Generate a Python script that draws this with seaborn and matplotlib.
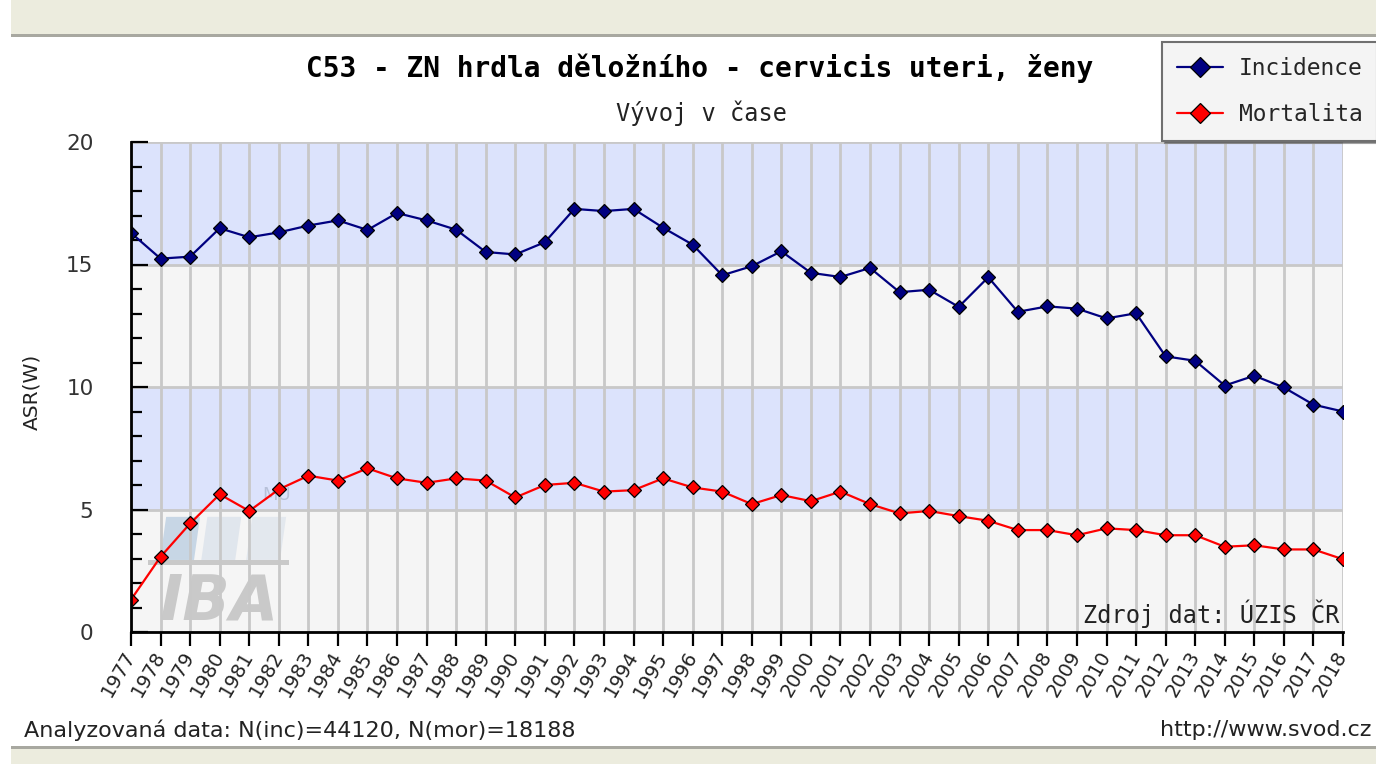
import matplotlib
matplotlib.use("Agg")
import matplotlib.pyplot as plt
from matplotlib.lines import Line2D
from matplotlib.patches import Rectangle, Polygon
import seaborn as sns
import pandas as pd

years = list(range(1977, 2019))
incidence = [16.29, 15.24, 15.32, 16.48, 16.11, 16.31, 16.59, 16.80, 16.41, 17.10,
             16.80, 16.42, 15.51, 15.41, 15.91, 17.27, 17.18, 17.27, 16.50, 15.81,
             14.56, 14.93, 15.54, 14.66, 14.49, 14.86, 13.87, 13.97, 13.27, 14.48,
             13.07, 13.29, 13.20, 12.80, 13.01, 11.25, 11.07, 10.06, 10.46, 9.98,
             9.28, 9.00]
mortality = [1.32, 3.07, 4.43, 5.62, 4.94, 5.82, 6.38, 6.18, 6.68, 6.27,
             6.09, 6.27, 6.18, 5.49, 6.00, 6.09, 5.73, 5.79, 6.27, 5.90,
             5.73, 5.22, 5.59, 5.34, 5.73, 5.22, 4.84, 4.94, 4.73, 4.54,
             4.16, 4.16, 3.95, 4.23, 4.16, 3.95, 3.95, 3.48, 3.54, 3.37,
             3.37, 2.97]
series_names = ["Incidence", "Mortalita"]
series_colors = {"Incidence": "#000080", "Mortalita": "#FF0000"}
y_bands = [0, 5, 10, 15, 20]

title = "C53 - ZN hrdla děložního - cervicis uteri, ženy"
subtitle = "Vývoj v čase"
ylabel = "ASR(W)"
source = "Zdroj dat: ÚZIS ČR"
footer_left = "Analyzovaná data: N(inc)=44120, N(mor)=18188"
footer_right = "http://www.svod.cz"

df = pd.DataFrame({
    "year": years * 2,
    "value": incidence + mortality,
    "series": [series_names[0]] * len(years) + [series_names[1]] * len(years),
})

sns.set_style("ticks")
plt.rcParams["font.family"] = ["DejaVu Sans"]

W, H = 1376, 764
fig = plt.figure(figsize=(W / 100, H / 100), dpi=100)
fig.patch.set_facecolor("white")

# page decoration bands
fig.patches.append(Rectangle((11 / W, 1 - 34 / H), 1, 34 / H, transform=fig.transFigure,
                             facecolor="#ECECDE", edgecolor="none", zorder=0))
fig.patches.append(Rectangle((11 / W, 1 - 37 / H), 1, 3 / H, transform=fig.transFigure,
                             facecolor="#A8A8A0", edgecolor="none", zorder=0))
fig.patches.append(Rectangle((11 / W, 0), 1, 15 / H, transform=fig.transFigure,
                             facecolor="#ECECDE", edgecolor="none", zorder=0))
fig.patches.append(Rectangle((11 / W, 15 / H), 1, 3 / H, transform=fig.transFigure,
                             facecolor="#A8A8A0", edgecolor="none", zorder=0))

L, R, T, B = 131, 1343, 142, 632
ax = fig.add_axes([L / W, 1 - B / H, (R - L) / W, (B - T) / H])
ax.set_facecolor("white")

band_colors = ["#F5F5F5", "#DCE3FC"]
for i in range(len(y_bands) - 1):
    ax.axhspan(y_bands[i], y_bands[i + 1], facecolor=band_colors[i % 2],
               edgecolor="none", zorder=0.1)

# watermark
wm_col = "#C9C9C9"
ax.add_patch(Rectangle((0.014, 0.136), 0.116, 0.011, transform=ax.transAxes,
                       facecolor=wm_col, edgecolor="none", zorder=0.3))
for x0, c, a in [(0.024, "#B8CCE0", 0.75), (0.058, "#D8E0EA", 0.7), (0.095, "#D8E0EA", 0.6)]:
    ax.add_patch(Polygon([(x0, 0.147), (x0 + 0.028, 0.147), (x0 + 0.033, 0.235), (x0 + 0.005, 0.235)],
                         closed=True, transform=ax.transAxes, facecolor=c, edgecolor="none",
                         alpha=a, zorder=0.3))
ax.text(0.024, 0.026, "IBA", transform=ax.transAxes, fontsize=45, fontweight="bold",
        fontstyle="italic", color=wm_col, zorder=0.3, ha="left", va="baseline")
ax.text(0.108, 0.262, "MU", transform=ax.transAxes, fontsize=13, color="#AEB8D0",
        zorder=0.3, ha="left", va="bottom", alpha=0.8)

sns.lineplot(data=df, x="year", y="value", hue="series", palette=series_colors,
             marker="D", markersize=7.5, markeredgecolor="black", markeredgewidth=0.9,
             linewidth=1.6, ax=ax, legend=False, zorder=3)

ax.set_xlim(years[0], years[-1])
ax.set_ylim(y_bands[0], y_bands[-1])
ax.set_xticks(years)
ax.set_xticklabels([str(y) for y in years], rotation=60, ha="right",
                   rotation_mode="anchor", va="center", fontsize=14)
ax.set_yticks(y_bands)
ax.set_yticks(range(0, 21), minor=True)
ax.tick_params(axis="y", which="major", direction="in", length=12, width=1.6,
               labelsize=15.5, pad=27, colors="black", labelcolor="#333333")
ax.tick_params(axis="y", which="minor", direction="in", length=8, width=1.6, colors="black")
ax.tick_params(axis="x", which="major", direction="out", length=10, width=1.6,
               pad=5, colors="black", labelcolor="#222222")
ax.set_xlabel("")
ax.set_ylabel("")

ax.set_axisbelow("line")
ax.grid(axis="x", which="major", color="#C8C8C8", linewidth=2)
ax.grid(axis="y", which="major", color="#C8C8C8", linewidth=2)

for s in ["top", "right"]:
    ax.spines[s].set_visible(False)
for s in ["left", "bottom"]:
    ax.spines[s].set_color("black")
    ax.spines[s].set_linewidth(2)
    ax.spines[s].set_zorder(4)

ax.text(0.997, 0.008, source, transform=ax.transAxes, ha="right", va="bottom",
        fontsize=17, family="DejaVu Sans Mono", color="#222222", zorder=5)

fig.text(700 / W, 1 - 68 / H, title, ha="center", va="center", fontsize=20,
         fontweight="bold", family="DejaVu Sans Mono", color="black")
fig.text(701 / W, 1 - 113 / H, subtitle, ha="center", va="center", fontsize=17,
         family="DejaVu Sans Mono", color="#222222")
fig.text(32 / W, 1 - 392 / H, ylabel, rotation=90, ha="center", va="center",
         fontsize=14.5, color="#222222")
fig.text(24 / W, 1 - 730 / H, footer_left, ha="left", va="center", fontsize=16, color="#222222")
fig.text(1371 / W, 1 - 730 / H, footer_right, ha="right", va="center", fontsize=16, color="#222222")

handles = [Line2D([], [], color=series_colors[n], marker="D", markerfacecolor=series_colors[n],
                  markeredgecolor="black", markeredgewidth=0.9, markersize=10, linewidth=1.6)
           for n in series_names]
leg = ax.legend(handles, series_names, loc="upper left",
                bbox_to_anchor=(1162 / W, 1 - 42 / H), bbox_transform=fig.transFigure,
                borderaxespad=0, frameon=True, fancybox=False, shadow=True, framealpha=1,
                prop={"family": "DejaVu Sans Mono", "size": 16.5},
                borderpad=0.65, labelspacing=1.0, handlelength=2.0, handletextpad=0.7)
leg.get_frame().set_facecolor("#F4F4F4")
leg.get_frame().set_edgecolor("#707070")
leg.get_frame().set_linewidth(1.5)
leg.set_zorder(10)

fig.savefig("out.png", dpi=100)
